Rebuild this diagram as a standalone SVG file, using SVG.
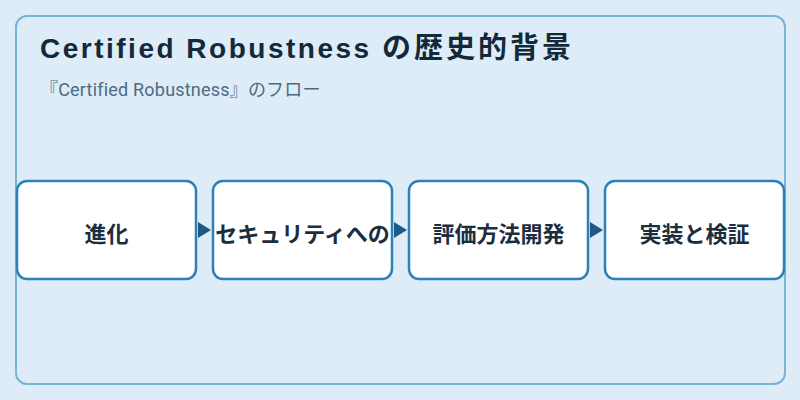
<svg xmlns="http://www.w3.org/2000/svg" width="800" height="400" viewBox="0 0 800 400">
<style>
.frame{fill:#ddecf7;stroke:#7ab3d5;stroke-width:2}
.node rect{fill:#ffffff;stroke:#2f80b9;stroke-width:2.5}
.node text{font-family:"Noto Sans CJK JP","Noto Sans",sans-serif;font-size:22px;font-weight:bold;fill:#1c2e3e;text-anchor:middle;dominant-baseline:central}
.title{font-family:"Liberation Sans","Noto Sans CJK JP",sans-serif;font-size:28px;font-weight:bold;fill:#13293a;letter-spacing:2.5px}
.title .jp{font-family:"Noto Sans CJK JP",sans-serif;font-size:29px;letter-spacing:3px}
.sub{font-family:"Roboto","Noto Sans CJK JP",sans-serif;font-size:18px;fill:#4d6b82;letter-spacing:0.2px}
.arrow{fill:#1f5a87}
</style>
<rect width="800" height="400" fill="#ddecf7"/>
<rect class="frame" x="16" y="16" width="769" height="368" rx="11"/>
<text class="title" x="40" y="58">Certified Robustness <tspan class="jp">の歴史的背景</tspan></text>
<text class="sub" x="40" y="96">『Certified Robustness』のフロー</text>
<g id="connectors">
<polygon class="arrow" points="198,222 211,230 198,238"/>
<polygon class="arrow" points="394,222 407,230 394,238"/>
<polygon class="arrow" points="590,222 603,230 590,238"/>
</g>
<g id="node1" class="node"><rect x="17" y="181" width="179" height="98" rx="10"/><text x="106.5" y="232">進化</text></g>
<g id="node2" class="node"><rect x="213" y="181" width="179" height="98" rx="10"/><text x="302.5" y="232">セキュリティへの</text></g>
<g id="node3" class="node"><rect x="409" y="181" width="179" height="98" rx="10"/><text x="498.5" y="232">評価方法開発</text></g>
<g id="node4" class="node"><rect x="605" y="181" width="179" height="98" rx="10"/><text x="694.5" y="232">実装と検証</text></g>
</svg>
